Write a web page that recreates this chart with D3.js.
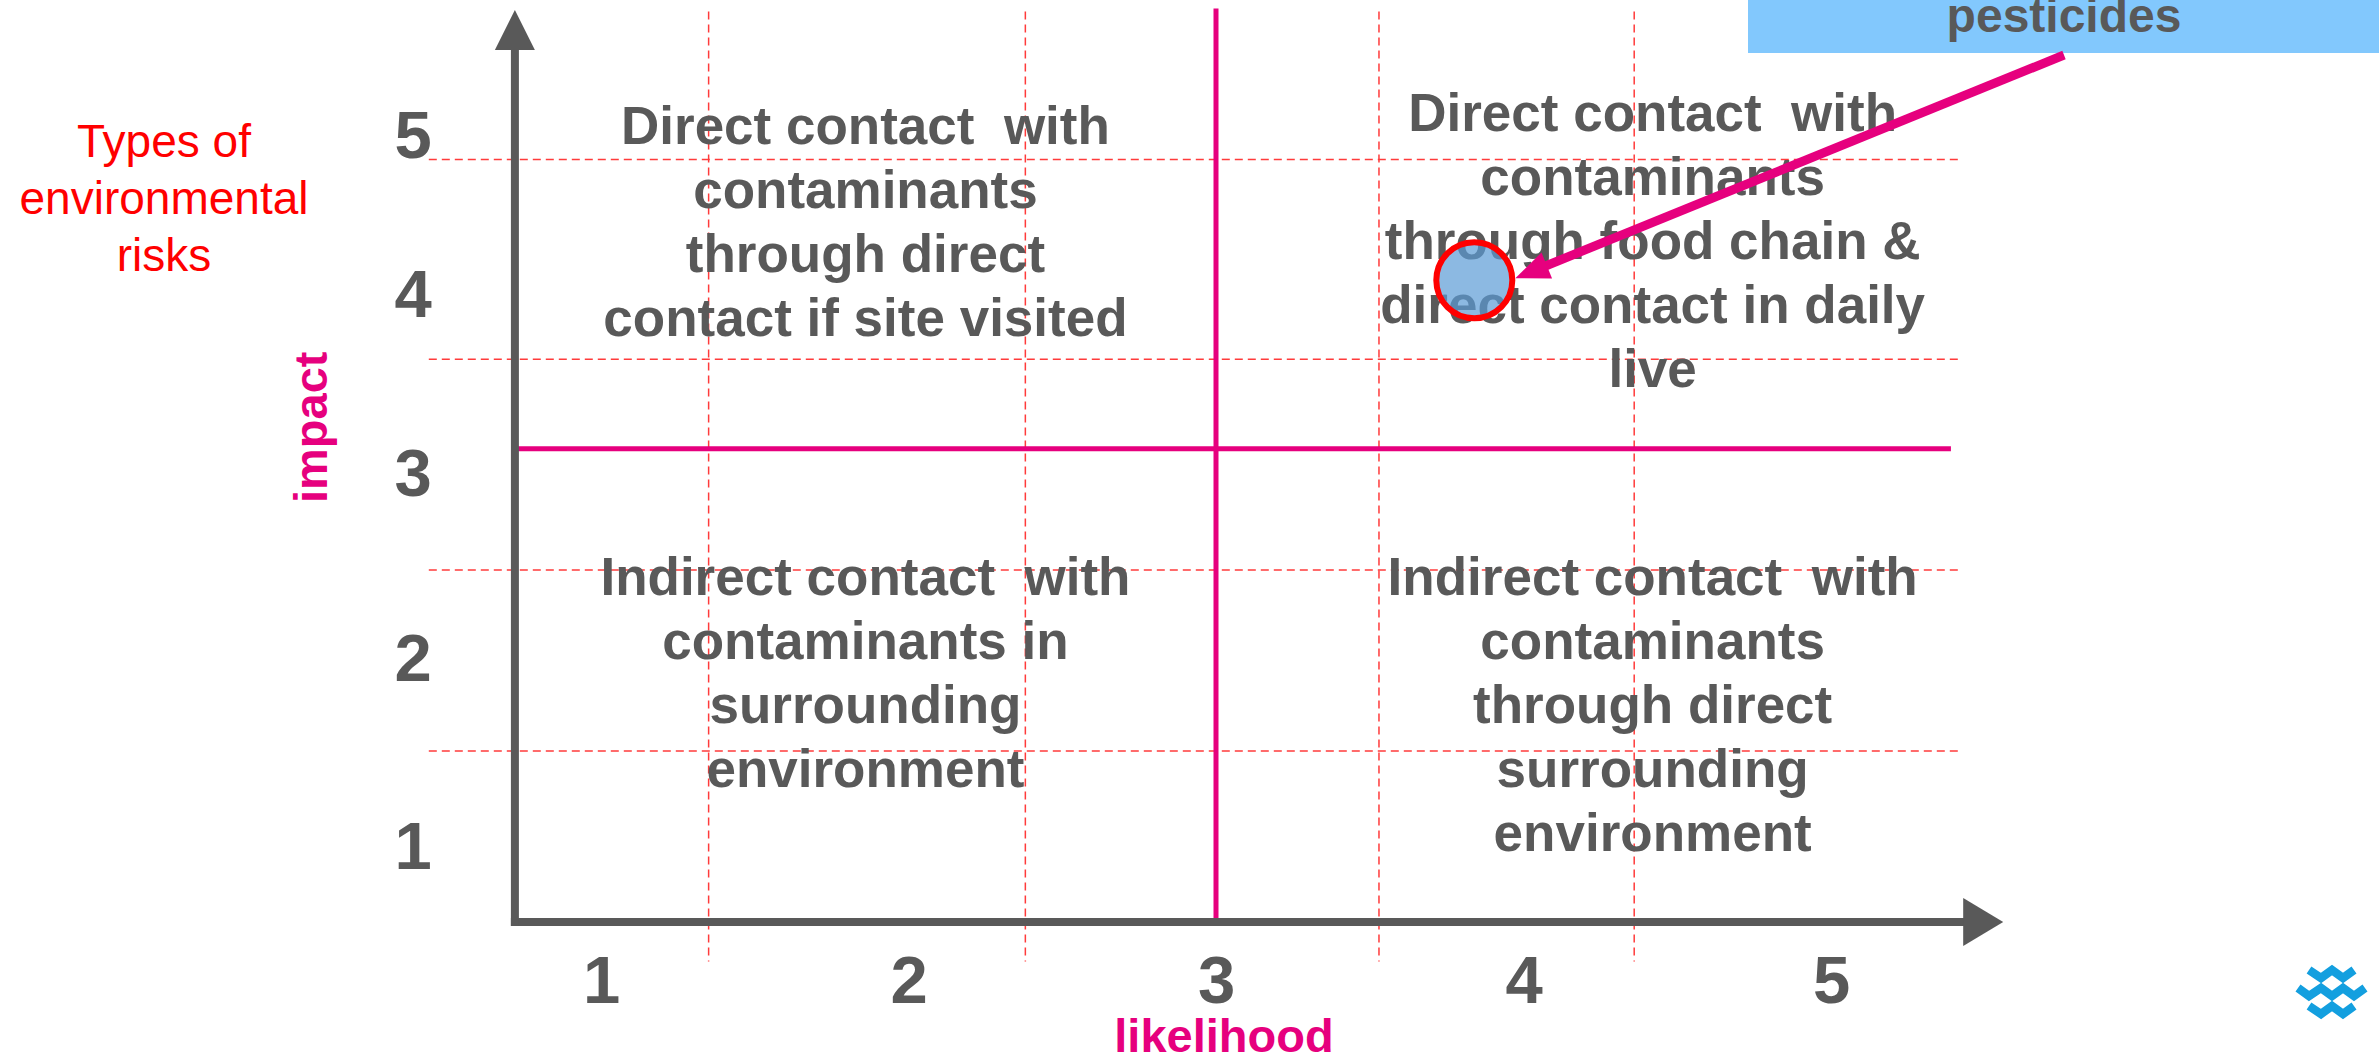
<!DOCTYPE html>
<html>
<head>
<meta charset="utf-8">
<script src="https://cdn.jsdelivr.net/npm/d3@7"></script>
<style>
body { margin: 0; background: #fff; }
svg { font-family: "Liberation Sans", Arial, sans-serif; }
</style>
</head>
<body>
<svg></svg>
<script>
// axis values
var likelihoodTicks = [1, 2, 3, 4, 5];
var impactTicks = [1, 2, 3, 4, 5];

// dashed helper lines (in axis units)
var gridLikelihood = [1.35, 2.38, 3.53, 4.36];
var gridImpact = [1.5, 2.47, 3.63, 4.84];

// quadrant split
var splitLikelihood = 3;
var splitImpact = 3.13;

var titleLines = ["Types of", "environmental", "risks"];

var quadrantLines = [
    ["Direct contact  with", "contaminants", "through direct", "contact if site visited"],
    ["Direct contact  with", "contaminants", "through food chain &", "direct contact in daily", "live"],
    ["Indirect contact  with", "contaminants in", "surrounding", "environment"],
    ["Indirect contact  with", "contaminants", "through direct", "surrounding", "environment"]
];
var quadrantLikelihood = [1.86, 4.42, 1.86, 4.42];
var quadrantImpact = [5.06, 5.14, 2.44, 2.44];

var riskNames = ["pesticides"];
var riskLikelihood = [3.84];
var riskImpact = [4.08];

var screen = {width: 2379, height: 1055};
var gray = "#595959";
var magenta = "#e6007e";

var svg = d3.select("svg")
    .attr("width", screen.width)
    .attr("height", screen.height);

var xScale = d3.scaleLinear()
    .domain([1, 5])
    .range([601, 1831]);

// the slide spaces the impact rows a bit unevenly
var yScale = d3.scaleLinear()
    .domain([1, 2, 3, 4, 5])
    .range([845, 657, 472, 293, 134]);

var xMin = 0.72, xMax = 5.56;   // axis extent
var yMin = 0.59, yMax = 5.78;

// dashed grid
var grid = svg.append("g")
    .attr("stroke", "#ff3b3b")
    .attr("stroke-width", 1.5)
    .attr("stroke-dasharray", "8,5");

grid.selectAll(".gx")
    .data(gridLikelihood)
    .enter()
    .append("line")
    .attr("x1", function(d){ return xScale(d) })
    .attr("x2", function(d){ return xScale(d) })
    .attr("y1", yScale(5.77))
    .attr("y2", yScale(0.38));

grid.selectAll(".gy")
    .data(gridImpact)
    .enter()
    .append("line")
    .attr("y1", function(d){ return yScale(d) })
    .attr("y2", function(d){ return yScale(d) })
    .attr("x1", xScale(0.44))
    .attr("x2", xScale(5.42));

// quadrant split lines
svg.append("line")
    .attr("x1", xScale(splitLikelihood))
    .attr("x2", xScale(splitLikelihood))
    .attr("y1", yScale(5.79))
    .attr("y2", yScale(yMin))
    .attr("stroke", magenta)
    .attr("stroke-width", 5);

svg.append("line")
    .attr("x1", xScale(xMin))
    .attr("x2", xScale(5.39))
    .attr("y1", yScale(splitImpact))
    .attr("y2", yScale(splitImpact))
    .attr("stroke", magenta)
    .attr("stroke-width", 5);

// axes with arrow heads
var x0 = xScale(xMin), y0 = yScale(yMin);
var xTip = xScale(xMax), yTip = yScale(yMax);

svg.append("line")
    .attr("x1", x0 - 4).attr("x2", xTip - 30)
    .attr("y1", y0).attr("y2", y0)
    .attr("stroke", gray).attr("stroke-width", 8);
svg.append("path")
    .attr("d", "M" + xTip + "," + y0 + "L" + (xTip - 40) + "," + (y0 - 24) + "L" + (xTip - 40) + "," + (y0 + 24) + "Z")
    .attr("fill", gray);

svg.append("line")
    .attr("x1", x0).attr("x2", x0)
    .attr("y1", y0 + 4).attr("y2", yTip + 30)
    .attr("stroke", gray).attr("stroke-width", 8);
svg.append("path")
    .attr("d", "M" + x0 + "," + yTip + "L" + (x0 - 20) + "," + (yTip + 40) + "L" + (x0 + 20) + "," + (yTip + 40) + "Z")
    .attr("fill", gray);

// tick labels
var xAxis = d3.axisBottom(xScale).tickValues(likelihoodTicks).tickSize(0).tickFormat(d3.format("d"));
var yAxis = d3.axisLeft(yScale).tickValues(impactTicks).tickSize(0).tickFormat(d3.format("d"));

svg.append("g")
    .attr("transform", "translate(0,980)")
    .call(xAxis)
    .call(function(g){ g.select(".domain").remove() })
    .selectAll("text")
    .attr("y", 0)
    .attr("dy", "0.35em")
    .attr("fill", gray)
    .attr("font-family", "Liberation Sans, Arial, sans-serif")
    .attr("font-size", 67)
    .attr("font-weight", "bold");

svg.append("g")
    .attr("transform", "translate(413,0)")
    .call(yAxis)
    .call(function(g){ g.select(".domain").remove() })
    .selectAll("text")
    .attr("x", 0)
    .attr("dy", "0.35em")
    .attr("text-anchor", "middle")
    .attr("fill", gray)
    .attr("font-family", "Liberation Sans, Arial, sans-serif")
    .attr("font-size", 67)
    .attr("font-weight", "bold");

// axis titles
svg.append("text")
    .attr("x", xScale(splitLikelihood) + 8)
    .attr("y", 1052)
    .attr("text-anchor", "middle")
    .attr("fill", magenta)
    .attr("font-size", 47)
    .attr("font-weight", "bold")
    .text("likelihood");

svg.append("text")
    .attr("transform", "translate(311," + yScale(3.25) + ") rotate(-90)")
    .attr("dy", "0.35em")
    .attr("text-anchor", "middle")
    .attr("fill", magenta)
    .attr("font-size", 47)
    .attr("font-weight", "bold")
    .text("impact");

// left title
svg.append("g")
    .selectAll("text")
    .data(titleLines)
    .enter()
    .append("text")
    .attr("x", 164)
    .attr("y", function(d, i){ return 157 + i * 57 })
    .attr("text-anchor", "middle")
    .attr("fill", "#ff0000")
    .attr("font-size", 46)
    .text(function(d){ return d });

// quadrant descriptions
var quads = svg.append("g")
    .selectAll("g")
    .data(quadrantLines)
    .enter()
    .append("g");

quads.selectAll("text")
    .data(function(lines, q){
        return lines.map(function(t, i){
            return {text: t, x: xScale(quadrantLikelihood[q]), y: yScale(quadrantImpact[q]) + i * 64};
        })
    })
    .enter()
    .append("text")
    .attr("x", function(d){ return d.x })
    .attr("y", function(d){ return d.y })
    .attr("dy", "0.36em")
    .attr("text-anchor", "middle")
    .attr("fill", gray)
    .attr("font-size", 53)
    .attr("font-weight", "bold")
    .style("white-space", "pre")
    .text(function(d){ return d.text });

// risk point
var r = 38;
svg.selectAll(".risk")
    .data(riskNames)
    .enter()
    .append("circle")
    .attr("class", "risk")
    .attr("cx", function(d, i){ return xScale(riskLikelihood[i]) })
    .attr("cy", function(d, i){ return yScale(riskImpact[i]) })
    .attr("r", r)
    .attr("fill", "rgba(91,155,213,0.7)")
    .attr("stroke", "#ff0000")
    .attr("stroke-width", 6);

// callout box
var box = {x: 1748, y: 0, w: 631, h: 53};
svg.append("rect")
    .attr("x", box.x).attr("y", box.y)
    .attr("width", box.w).attr("height", box.h)
    .attr("fill", "#82c8fd");

svg.append("text")
    .attr("x", 2064)
    .attr("y", 32)
    .attr("text-anchor", "middle")
    .attr("fill", gray)
    .attr("font-size", 48)
    .attr("font-weight", "bold")
    .text(riskNames[0]);

// arrow from callout to the point
var sx = 2064, sy = 55;
var ex = xScale(riskLikelihood[0]) + r + 3, ey = yScale(riskImpact[0]) - 2;
var ang = Math.atan2(ey - sy, ex - sx);
var hl = 34, hw = 14;
var bx = ex - hl * Math.cos(ang), by = ey - hl * Math.sin(ang);

svg.append("line")
    .attr("x1", sx).attr("y1", sy)
    .attr("x2", bx + 4 * Math.cos(ang)).attr("y2", by + 4 * Math.sin(ang))
    .attr("stroke", magenta)
    .attr("stroke-width", 9);

svg.append("path")
    .attr("d", "M" + ex + "," + ey +
        "L" + (bx - hw * Math.sin(ang)) + "," + (by + hw * Math.cos(ang)) +
        "L" + (bx + hw * Math.sin(ang)) + "," + (by - hw * Math.cos(ang)) + "Z")
    .attr("fill", magenta);

// small logo, bottom right
var logoRows = [
    [[11,7],[23,15],[34,7],[45,15],[56,7]],
    [[0,25],[11,33],[23,25],[34,33],[45,25],[56,33],[67,25]],
    [[11,43],[23,51],[34,43],[45,51],[56,43]]
];
svg.append("g")
    .attr("transform", "translate(2298,963)")
    .selectAll("polyline")
    .data(logoRows)
    .enter()
    .append("polyline")
    .attr("points", function(d){ return d.join(" ") })
    .attr("fill", "none")
    .attr("stroke", "#139fdf")
    .attr("stroke-width", 8.5)
    .attr("stroke-linejoin", "miter");
</script>
</body>
</html>
